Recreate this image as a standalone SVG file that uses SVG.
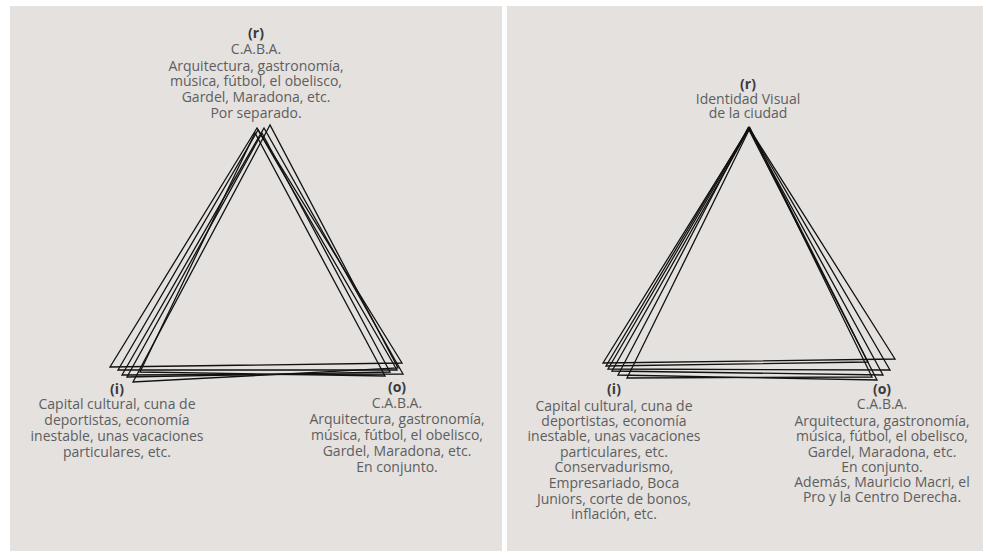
<svg xmlns="http://www.w3.org/2000/svg" width="989" height="551" viewBox="0 0 989 551">
<style>
.panel{fill:#e4e1df}
.t{font-family:"Open Sans","Liberation Sans",sans-serif;font-size:14px;fill:#5e5e5e;text-anchor:middle}
.b{font-weight:bold;fill:#3a3a3a}
.tri{fill:none;stroke:#111;stroke-width:1.3;stroke-linejoin:miter}
</style>
<rect width="989" height="551" fill="#ffffff"/>
<rect class="panel" x="10" y="6" width="492" height="545"/>
<rect class="panel" x="507" y="6" width="476" height="545"/>

<g id="connectors">
  <g id="tri-left">
    <polygon class="tri" points="257,128 110,367 402,363"/>
    <polygon class="tri" points="258,130 118,370 397,370"/>
    <polygon class="tri" points="262,133 127,377 390,372"/>
    <polygon class="tri" points="270,125 133,382 398,368"/>
    <polygon class="tri" points="255,133 140,372 385,376"/>
    <polygon class="tri" points="264,128 122,375 403,374"/>
  </g>
  <g id="tri-right">
    <polygon class="tri" points="749,128 603,363 895,359"/>
    <polygon class="tri" points="749,128 608,369 890,370"/>
    <polygon class="tri" points="749,129 612,371 883,375"/>
    <polygon class="tri" points="748,128 618,375 877,380"/>
    <polygon class="tri" points="750,128 627,378 872,377"/>
    <polygon class="tri" points="749,127 606,366 868,362"/>
  </g>
</g>

<g id="left-r">
  <text class="t b" x="256" y="38">(r)</text>
  <text class="t" x="256" y="54">C.A.B.A.</text>
  <text class="t" x="256" y="71">Arquitectura, gastronomía,</text>
  <text class="t" x="256" y="86">música, fútbol, el obelisco,</text>
  <text class="t" x="256" y="102">Gardel, Maradona, etc.</text>
  <text class="t" x="256" y="118">Por separado.</text>
</g>
<g id="left-i">
  <text class="t b" x="117" y="394">(i)</text>
  <text class="t" x="117" y="409">Capital cultural, cuna de</text>
  <text class="t" x="117" y="425">deportistas, economía</text>
  <text class="t" x="117" y="441">inestable, unas vacaciones</text>
  <text class="t" x="117" y="457">particulares, etc.</text>
</g>
<g id="left-o">
  <text class="t b" x="397" y="392">(o)</text>
  <text class="t" x="397" y="408">C.A.B.A.</text>
  <text class="t" x="397" y="424">Arquitectura, gastronomía,</text>
  <text class="t" x="397" y="440">música, fútbol, el obelisco,</text>
  <text class="t" x="397" y="456">Gardel, Maradona, etc.</text>
  <text class="t" x="397" y="472">En conjunto.</text>
</g>

<g id="right-r">
  <text class="t b" x="748" y="89">(r)</text>
  <text class="t" x="748" y="104">Identidad Visual</text>
  <text class="t" x="748" y="118">de la ciudad</text>
</g>
<g id="right-i">
  <text class="t b" x="614" y="394">(i)</text>
  <text class="t" x="614" y="411">Capital cultural, cuna de</text>
  <text class="t" x="614" y="426">deportistas, economía</text>
  <text class="t" x="614" y="441">inestable, unas vacaciones</text>
  <text class="t" x="614" y="457">particulares, etc.</text>
  <text class="t" x="614" y="472">Conservadurismo,</text>
  <text class="t" x="614" y="488">Empresariado, Boca</text>
  <text class="t" x="614" y="504">Juniors, corte de bonos,</text>
  <text class="t" x="614" y="519">inflación, etc.</text>
</g>
<g id="right-o">
  <text class="t b" x="882" y="394">(o)</text>
  <text class="t" x="882" y="409">C.A.B.A.</text>
  <text class="t" x="882" y="426">Arquitectura, gastronomía,</text>
  <text class="t" x="882" y="441">música, fútbol, el obelisco,</text>
  <text class="t" x="882" y="457">Gardel, Maradona, etc.</text>
  <text class="t" x="882" y="472">En conjunto.</text>
  <text class="t" x="882" y="487">Además, Mauricio Macri, el</text>
  <text class="t" x="882" y="502">Pro y la Centro Derecha.</text>
</g>
</svg>
